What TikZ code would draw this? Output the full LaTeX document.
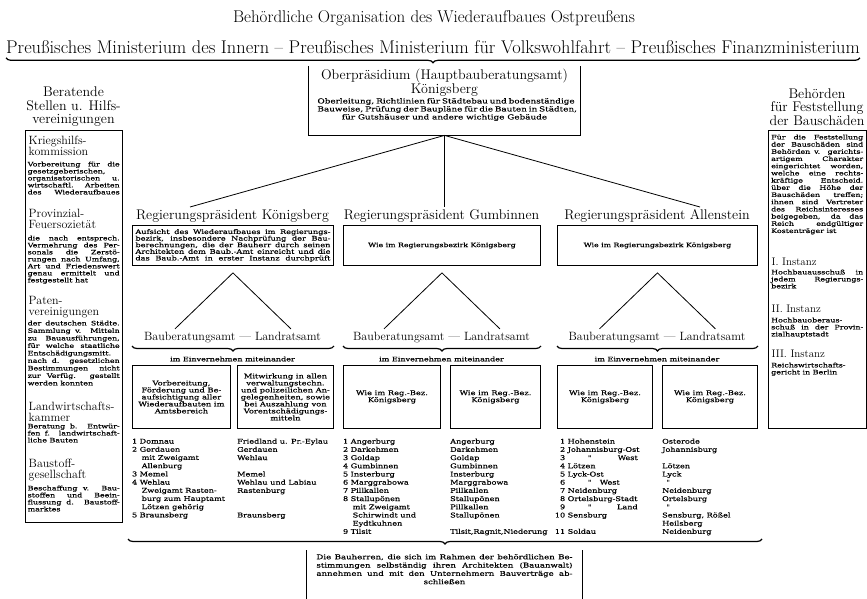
\documentclass[tikz,border=0pt]{standalone}
\usepackage{fontspec}
\usepackage{tikz}
\usetikzlibrary{calc,shapes,positioning,decorations.pathreplacing}
\newfontfamily\klein[FakeStretch=1.3,FakeBold=0.3]{DejaVu Serif}
\newfontfamily\ortsfont[FakeStretch=1.25,FakeBold=0.3]{DejaVu Serif}
\newcommand{\nr}[2][5pt]{\makebox[#1][r]{#2}\hspace{2.5pt}}
\newcommand{\ein}{\hspace*{9.5pt}}
\newcommand{\bz}[2][92pt]{\makebox[#1][s]{#2}}
\newcommand{\wie}{Wie im Reg.-Bez.\\Königsberg}
\newcommand{\wiebezirk}{Wie im Regierungsbezirk Königsberg}
\newcommand{\dito}{"}
\tikzset{
  rahmen/.style={line width=0.9pt},
  kasten/.style={draw, rahmen, inner sep=0pt},
  linie/.style={line width=0.8pt},
  klammer/.style={decorate, decoration={brace, mirror, amplitude=5pt}, line width=1.2pt},
  titel/.style={font=\fontsize{17}{20}\selectfont, inner sep=0pt},
  gross/.style={font=\fontsize{14}{13.5}\selectfont, align=center, inner sep=0pt},
  abschnitt/.style={font=\fontsize{12}{11}\selectfont, align=left, inner sep=0pt, anchor=north west},
  bauamt/.style={font=\fontsize{12}{12}\selectfont, inner sep=0pt},
  fliess/.style={font={\klein\fontsize{6.1}{7}\selectfont}, align=left, inner sep=0pt, anchor=north west},
  mitte/.style={font={\klein\fontsize{6.4}{7}\selectfont}, align=center, inner sep=0pt},
  orte/.style={font={\ortsfont\fontsize{6.5}{8.2}\selectfont}, align=left, inner sep=0pt, anchor=north west},
}
\begin{document}
\begin{tikzpicture}[x=1pt,y=-1pt]
\useasboundingbox (0,0) rectangle (867,599);

\node[titel] (titel) at (434,18) {Behördliche Organisation des Wiederaufbaues Ostpreußens};
\node[titel, font=\fontsize{18.4}{20}\selectfont] (ministerien) at (433,47) {Preußisches Ministerium des Innern -- Preußisches Ministerium für Volkswohlfahrt -- Preußisches Finanzministerium};
\draw[klammer] ([yshift=-4pt]ministerien.south west) -- ([yshift=-4pt]ministerien.south east);

\node[inner sep=0pt, minimum width=271pt, minimum height=69pt, anchor=north] (ober) at (444.5,66) {};
\draw[rahmen] (ober.north west) -- (ober.south west) -- (ober.south east) -- (ober.north east);
\node[gross, anchor=north] (oberkopf) at (444.5,69) {Oberpräsidium (Hauptbauberatungsamt)\\Königsberg};
\node[mitte, anchor=north, font={\klein\fontsize{6.8}{8}\selectfont}] (oberaufgabe) at (444.5,98) {\bz[254pt]{Oberleitung, Richtlinien für Städtebau und bodenständige}\\\bz[254pt]{Bauweise, Prüfung der Baupläne für die Bauten in Städten,}\\für Gutshäuser und andere wichtige Gebäude};

\node[gross] (rpk) at (232.5,216) {Regierungspräsident Königsberg};
\node[gross] (rpg) at (441.5,216) {Regierungspräsident Gumbinnen};
\node[gross] (rpa) at (657,216) {Regierungspräsident Allenstein};
\coordinate (fanl) at (190,207);
\coordinate (fanr) at (700,207);
\coordinate (fanm) at (ober.south |- fanl);
\draw[linie] (fanl) -- (ober.south) -- (fanr);
\draw[linie] (ober.south) -- (fanm);

\node[kasten, anchor=north west, minimum width=201pt, minimum height=40pt, align=left, font={\klein\fontsize{6.3}{6.6}\selectfont}] (aufk) at (132,225) {\bz[195pt]{Aufsicht des Wiederaufbaues im Regierungs-}\\\bz[195pt]{bezirk, insbesondere Nachprüfung der Bau-}\\\bz[195pt]{berechnungen, die der Bauherr durch seinen}\\\bz[195pt]{Architekten dem Baub.-Amt einreicht und die}\\\bz[195pt]{das Baub.-Amt in erster Instanz durchprüft}};
\node[kasten, anchor=north west, minimum width=197pt, minimum height=40pt, font={\klein\fontsize{6}{7}\selectfont}] (aufg) at (343,225) {\wiebezirk};
\node[kasten, anchor=north west, minimum width=200pt, minimum height=40pt, font={\klein\fontsize{6}{7}\selectfont}] (aufa) at (557,225) {\wiebezirk};

\foreach \s in {k,g,a}
  \draw[linie] ($(auf\s.south)+(-58,63)$) -- ($(auf\s.south)+(0,7)$) -- ($(auf\s.south)+(58,63)$);

\node[bauamt] (bbk) at (232.5,338) {Bauberatungsamt — Landratsamt};
\node[bauamt] (bbg) at (441.5,338) {Bauberatungsamt — Landratsamt};
\node[bauamt] (bba) at (657,338) {Bauberatungsamt — Landratsamt};

\node[kasten, anchor=north west, minimum width=98pt, minimum height=63pt, mitte] (bk1) at (132,365) {Vorbereitung,\\Förderung und Be-\\aufsichtigung aller\\Wiederaufbauten im\\Amtsbereich};
\node[kasten, anchor=north west, minimum width=96pt, minimum height=63pt, mitte] (bk2) at (237,365) {Mitwirkung in allen\\verwaltungstechn.\\und polizeilichen An-\\gelegenheiten, sowie\\bei Auszahlung von\\Vorentschädigungs-\\mitteln};
\node[kasten, anchor=north west, minimum width=97pt, minimum height=63pt, mitte] (bg1) at (343,365) {\wie};
\node[kasten, anchor=north west, minimum width=90pt, minimum height=63pt, mitte] (bg2) at (450,365) {\wie};
\node[kasten, anchor=north west, minimum width=95pt, minimum height=63pt, mitte] (ba1) at (557,365) {\wie};
\node[kasten, anchor=north west, minimum width=95pt, minimum height=63pt, mitte] (ba2) at (662,365) {\wie};

\draw[klammer] ([yshift=19pt]bk1.north west) -- ([yshift=19pt]bk2.north east);
\draw[klammer] ([yshift=19pt]bg1.north west) -- ([yshift=19pt]bg2.north east);
\draw[klammer] ([yshift=19pt]ba1.north west) -- ([yshift=19pt]ba2.north east);
\node[mitte, font={\klein\fontsize{6.2}{7}\selectfont}] (einvk) at (232.5,359) {im Einvernehmen miteinander};
\node[mitte, font={\klein\fontsize{6.2}{7}\selectfont}] (einvg) at (441.5,359) {im Einvernehmen miteinander};
\node[mitte, font={\klein\fontsize{6.2}{7}\selectfont}] (einva) at (657,359) {im Einvernehmen miteinander};

\node[orte] (listek1) at (132,438.5) {\nr{1}Domnau\\\nr{2}Gerdauen\\\ein mit Zweigamt\\\ein Allenburg\\\nr{3}Memel\\\nr{4}Wehlau\\\ein Zweigamt Rasten-\\\ein burg zum Hauptamt\\\ein Lötzen gehörig\\\nr{5}Braunsberg};
\node[orte] (listek2) at (237,438.5) {Friedland u. Pr.-Eylau\\Gerdauen\\Wehlau\\\mbox{}\\Memel\\Wehlau und Labiau\\Rastenburg\\\mbox{}\\\mbox{}\\Braunsberg};
\node[orte] (listeg1) at (343,438.5) {\nr{1}Angerburg\\\nr{2}Darkehmen\\\nr{3}Goldap\\\nr{4}Gumbinnen\\\nr{5}Insterburg\\\nr{6}Marggrabowa\\\nr{7}Pillkallen\\\nr{8}Stallupönen\\\ein mit Zweigamt\\\ein Schirwindt und\\\ein Eydtkuhnen\\\nr{9}Tilsit};
\node[orte] (listeg2) at (450,438.5) {Angerburg\\Darkehmen\\Goldap\\Gumbinnen\\Insterburg\\Marggrabowa\\Pillkallen\\Stallupönen\\Pillkallen\\Stallupönen\\\mbox{}\\Tilsit,Ragnit,Niederung};
\node[orte] (listea1) at (556,438.5) {\nr[9pt]{1}Hohenstein\\\nr[9pt]{2}Johannisburg-Ost\\\nr[9pt]{3}\makebox[70pt][l]{\hspace{20pt}\dito\hfill West}\\\nr[9pt]{4}Lötzen\\\nr[9pt]{5}Lyck-Ost\\\nr[9pt]{6}\makebox[52pt][l]{\hspace{20pt}\dito\hfill West}\\\nr[9pt]{7}Neidenburg\\\nr[9pt]{8}Ortelsburg-Stadt\\\nr[9pt]{9}\makebox[70pt][l]{\hspace{20pt}\dito\hfill Land}\\\nr[9pt]{10}Sensburg\\\mbox{}\\\nr[9pt]{11}Soldau};
\node[orte] (listea2) at (662,438.5) {Osterode\\Johannisburg\\\mbox{}\\Lötzen\\Lyck\\\hspace*{4pt}\dito\\Neidenburg\\Ortelsburg\\\hspace*{4pt}\dito\\Sensburg, Rößel\\Heilsberg\\Neidenburg};

\coordinate (klu1) at (128,539);
\coordinate (klu2) at (762,539);
\draw[klammer] (klu1) -- (klu2);
\node[inner sep=0pt, minimum width=275pt, minimum height=49pt, anchor=north] (bauherr) at (444.5,550) {};
\draw[rahmen] (bauherr.north west) -- (bauherr.south west) (bauherr.north east) -- (bauherr.south east);
\node[mitte, anchor=north, font={\klein\fontsize{6.6}{8.3}\selectfont}] (bauherrtext) at (444.5,554) {\bz[256pt]{Die Bauherren, die sich im Rahmen der behördlichen Be-}\\\bz[256pt]{stimmungen selbständig ihren Architekten (Bauanwalt)}\\\bz[256pt]{annehmen und mit den Unternehmern Bauverträge ab-}\\schließen};

\node[gross] (beratend) at (73.5,107) {Beratende\\Stellen u. Hilfs-\\vereinigungen};
\node[kasten, anchor=north west, minimum width=97pt, minimum height=392pt] (hilfs) at (25,130) {};
\node[abschnitt] (kriegshilfe) at (28.5,136) {Kriegshilfs-\\kommission};
\node[fliess] (kriegshilfetext) at (27.5,161.5) {\bz{Vorbereitung für die}\\gesetzgeberischen,\\\bz{organisatorischen u.}\\\bz{wirtschaftl. Arbeiten}\\\bz{des Wiederaufbaues}};
\node[abschnitt] (feuer) at (28.5,209) {Provinzial-\\Feuersozietät};
\node[fliess] (feuertext) at (27.5,235.5) {\bz{die nach entsprech.}\\\bz{Vermehrung des Per-}\\\bz{sonals die Zerstö-}\\\bz{rungen nach Umfang,}\\\bz{Art und Friedenswert}\\\bz{genau ermittelt und}\\festgestellt hat};
\node[abschnitt] (paten) at (28.5,296) {Paten-\\vereinigungen};
\node[fliess, font={\klein\fontsize{6.1}{7.5}\selectfont}] (patentext) at (27.5,320.5) {\bz{der deutschen Städte.}\\\bz{Sammlung v. Mitteln}\\\bz{zu Bauausführungen,}\\\bz{für welche staatliche}\\\bz{Entschädigungsmitt.}\\\bz{nach d. gesetzlichen}\\\bz{Bestimmungen nicht}\\\bz{zur Verfüg. gestellt}\\werden konnten};
\node[abschnitt] (landwirt) at (28.5,402) {Landwirtschafts-\\kammer};
\node[fliess] (landwirttext) at (27.5,423.5) {\bz{Beratung b. Entwür-}\\\bz{fen f. landwirtschaft-}\\liche Bauten};
\node[abschnitt] (baustoff) at (28.5,459) {Baustoff-\\gesellschaft};
\node[fliess] (baustofftext) at (27.5,485.5) {\bz{Beschaffung v. Bau-}\\\bz{stoffen und Beein-}\\\bz{flussung d. Baustoff-}\\marktes};

\node[gross] (behoerden) at (817,107) {Behörden\\für Feststellung\\der Bauschäden};
\node[kasten, anchor=north west, minimum width=98pt, minimum height=298pt] (feststellung) at (768,130) {};
\node[fliess, font={\klein\fontsize{6.1}{7.2}\selectfont}] (feststellungtext) at (771,134.5) {\bz{Für die Feststellung}\\\bz{der Bauschäden sind}\\\bz{Behörden v. gerichts-}\\\bz{artigem Charakter}\\\bz{eingerichtet worden,}\\\bz{welche eine rechts-}\\\bz{kräftige Entscheid.}\\\bz{über die Höhe der}\\\bz{Bauschäden treffen;}\\\bz{ihnen sind Vertreter}\\\bz{des Reichsinteresses}\\\bz{beigegeben, da das}\\\bz{Reich endgültiger}\\Kostenträger ist};
\node[abschnitt, font=\fontsize{11}{11}\selectfont] (instanz1) at (771.5,258) {I. Instanz};
\node[fliess] (instanz1text) at (771,269.5) {\bz{Hochbauausschuß in}\\\bz{jedem Regierungs-}\\bezirk};
\node[abschnitt, font=\fontsize{11}{11}\selectfont] (instanz2) at (771.5,305) {II. Instanz};
\node[fliess] (instanz2text) at (771,317.5) {Hochbauoberaus-\\\bz{schuß in der Provin-}\\zialhauptstadt};
\node[abschnitt, font=\fontsize{11}{11}\selectfont] (instanz3) at (771.5,350) {III. Instanz};
\node[fliess] (instanz3text) at (771,362.5) {Reichswirtschafts-\\gericht in Berlin};
\end{tikzpicture}
\end{document}
